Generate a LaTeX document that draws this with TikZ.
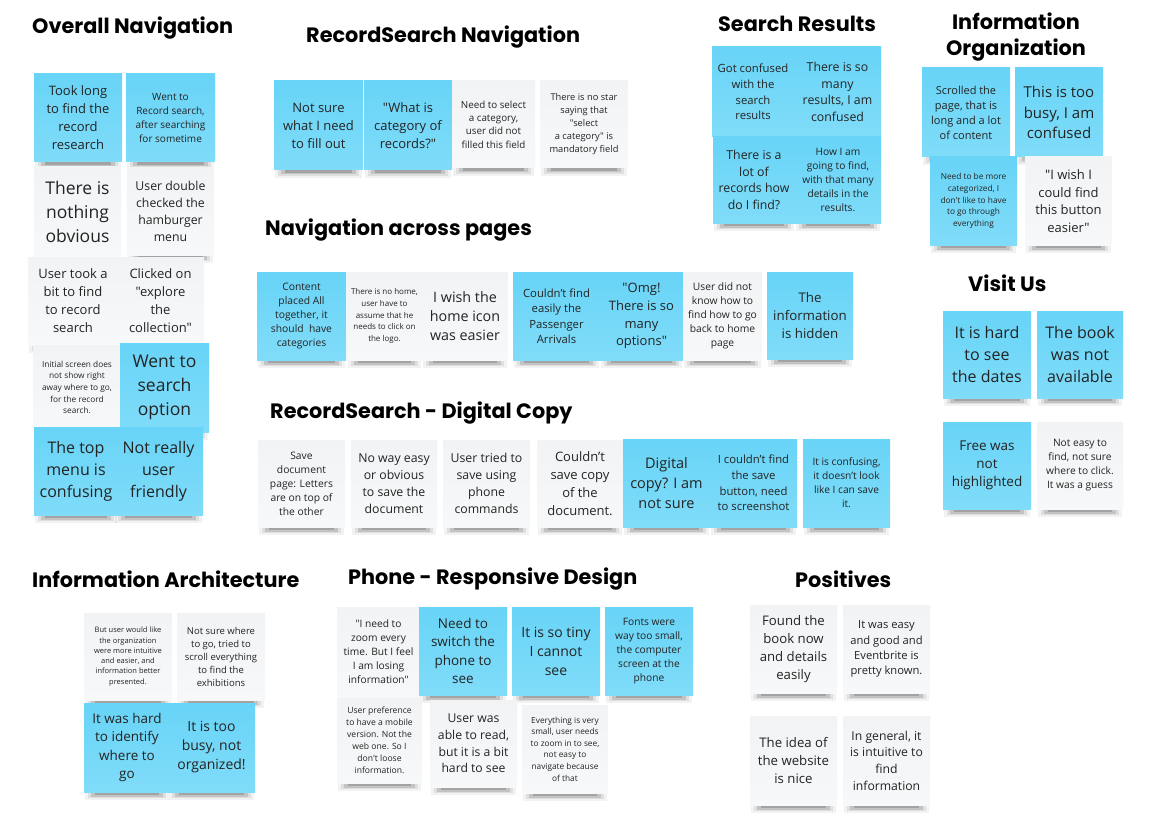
\documentclass[tikz,border=0pt]{standalone}
\usepackage{fontspec}
\setmainfont{Open Sans}[Ligatures=TeXOff]
\newfontfamily\titlefont{Poppins}

\definecolor{noteblue}{HTML}{68D4F7}
\definecolor{noteblueb}{HTML}{80DCF9}
\definecolor{notegray}{HTML}{F2F3F5}
\definecolor{notegrayb}{HTML}{F7F8F9}
\definecolor{inkc}{HTML}{232323}

\tikzset{
  notebase/.style={anchor=center, inner sep=0pt, align=center, text=inkc, draw=none},
  bluenote/.style={notebase, top color=noteblue, bottom color=noteblueb},
  graynote/.style={notebase, top color=notegray, bottom color=notegrayb},
  heading/.style={font=\titlefont\bfseries\fontsize{20.8}{26}\selectfont, text=black, inner sep=0pt, anchor=west},
}

% sticky note with a soft drop shadow:
% name, left, top, width, height, style, font size, line pitch, text
\newcommand\sticky[9]{%
  \fill[black,opacity=.05] (#2+1,#3+#5-8) rectangle (#2+#4-1,#3+#5+8);
  \fill[black,opacity=.08] (#2+4,#3+#5-5) rectangle (#2+#4-4,#3+#5+6);
  \fill[black,opacity=.12] (#2+7,#3+#5-3) rectangle (#2+#4-7,#3+#5+4.5);
  \fill[black,opacity=.16] (#2+11,#3+#5-1) rectangle (#2+#4-11,#3+#5+3);
  \node[#6, minimum width=#4, minimum height=#5, font=\fontsize{#7}{#8}\selectfont]
    (#1) at (#2+#4/2,#3+#5/2) {#9};
}

\begin{document}
\begin{tikzpicture}[x=1pt,y=-1pt]
\fill[white] (0,0) rectangle (1152,824);
\useasboundingbox (0,0) rectangle (1152,824);

% ---------- headings ----------
\node[heading] (hOverall) at (32,28) {Overall Navigation};
\node[heading] (hRecNav) at (306,37) {RecordSearch Navigation};
\node[heading] (hResults) at (718,24) {Search Results};
\node[heading, anchor=center, align=center] (hInfoOrg) at (1016,37) {Information\\Organization};
\node[heading] (hAcross) at (265,230) {Navigation across pages};
\node[heading] (hVisit) at (968,283) {Visit Us};
\node[heading] (hDigital) at (270,413) {RecordSearch - Digital Copy};
\node[heading] (hArch) at (32,579) {Information Architecture};
\node[heading] (hPhone) at (348,579) {Phone - Responsive Design};
\node[heading] (hPos) at (795,579) {Positives};

% ---------- Overall Navigation ----------
\sticky{on1}{34}{74}{88}{88}{bluenote}{13}{18}{Took long\\to find the\\record\\research}
\sticky{on2}{126}{74}{89}{88}{bluenote}{10}{14}{Went to\\Record search,\\after searching\\for sometime}
\sticky{on3}{34}{167}{87}{90}{graynote}{17.5}{24}{There is\\nothing\\obvious}
\sticky{on4}{127}{168}{87}{87}{graynote}{12.3}{17}{User double\\checked the\\hamburger\\menu}
\sticky{on5}{28}{257}{90}{88}{graynote}{13}{18}{User took a\\bit to find\\to record\\search}
\sticky{on6}{117}{257}{87}{87}{graynote}{13}{18}{Clicked on\\"explore\\the\\collection"}
\sticky{on7}{33}{345}{88}{85}{graynote}{8.3}{11.7}{Initial screen does\\not show right\\away where to go,\\for the record\\search.}
\sticky{on8}{120}{343}{89}{89}{bluenote}{17.5}{24}{Went to\\search\\option}
\sticky{on9}{34}{427}{84}{88}{bluenote}{16}{22}{The top\\menu is\\confusing}
\sticky{on10}{114}{427}{89}{88}{bluenote}{16}{22}{Not really\\user\\friendly}

% ---------- RecordSearch Navigation ----------
\sticky{rn1}{274}{81}{89}{89}{bluenote}{13}{18}{Not sure\\what I need\\to fill out}
\sticky{rn2}{364}{81}{88}{89}{bluenote}{13}{18}{"What is\\category of\\records?"}
\sticky{rn3}{452}{81}{83}{87}{graynote}{9.8}{13.3}{Need to select\\a category,\\user did not\\filled this field}
\sticky{rn4}{540}{81}{88}{87}{graynote}{9.3}{13}{There is no star\\saying that\\"select\\a category" is\\mandatory field}

% ---------- Navigation across pages ----------
\sticky{na1}{257}{272}{89}{88}{bluenote}{10.3}{14}{Content\\placed All\\together, it\\should\ \ have\\categories}
\sticky{na2}{347}{272}{75}{88}{graynote}{8}{11.7}{There is no home,\\user have to\\assume that he\\needs to click on\\the logo.}
\sticky{na3}{422}{272}{86}{88}{graynote}{14.3}{19}{I wish the\\home icon\\was easier}
\sticky{na4}{513}{272}{87}{88}{bluenote}{11.3}{15.5}{Couldn’t find\\easily the\\Passenger\\Arrivals}
\sticky{na5}{600}{272}{83}{88}{bluenote}{13}{17.7}{"Omg!\\There is so\\many\\options"}
\sticky{na6}{683}{272}{79}{88}{graynote}{10.3}{14}{User did not\\know how to\\find how to go\\back to home\\page}
\sticky{na7}{767}{272}{86}{87}{bluenote}{13.3}{18}{The\\information\\is hidden}

% ---------- RecordSearch - Digital Copy ----------
\sticky{dc1}{258}{440}{87}{87}{graynote}{10.3}{14}{Save\\document\\page: Letters\\are on top of\\the other}
\sticky{dc2}{351}{440}{86}{87}{graynote}{12.3}{17}{No way easy\\or obvious\\to save the\\document}
\sticky{dc3}{443}{440}{87}{87}{graynote}{12.3}{17}{User tried to\\save using\\phone\\commands}
\sticky{dc4}{537}{440}{86}{87}{graynote}{13}{18}{Couldn’t\\save copy\\of the\\document.}
\sticky{dc5}{623}{439}{87}{88}{bluenote}{14.5}{20}{Digital\\copy? I am\\not sure}
\sticky{dc6}{710}{439}{87}{88}{bluenote}{11.3}{15.7}{I couldn’t find\\the save\\button, need\\to screenshot}
\sticky{dc7}{803}{439}{87}{88}{bluenote}{10.2}{14}{It is confusing,\\it doesn’t look\\like I can save\\it.}

% ---------- Search Results ----------
\sticky{sr1}{712}{47}{82}{90}{bluenote}{11.3}{15.7}{Got confused\\with the\\search\\results}
\sticky{sr2}{794}{47}{87}{90}{bluenote}{12.3}{16.7}{There is so\\many\\results, I am\\confused}
\sticky{sr3}{713}{137}{82}{86}{bluenote}{12.3}{16.7}{There is a\\lot of\\records how\\do I find?}
\sticky{sr4}{795}{137}{86}{86}{bluenote}{10.2}{14}{How I am\\going to find,\\with that many\\details in the\\results.}

% ---------- Information Organization ----------
\sticky{io1}{922}{68}{88}{89}{bluenote}{11}{15}{Scrolled the\\page, that is\\long and a lot\\of content}
\sticky{io2}{1015}{68}{88}{89}{bluenote}{15}{20.7}{This is too\\busy, I am\\confused}
\sticky{io3}{930}{157}{87}{88}{bluenote}{8.3}{11.7}{Need to be more\\categorized, I\\don't like to have\\to go through\\everything}
\sticky{io4}{1025}{157}{87}{88}{graynote}{13}{17.7}{"I wish I\\could find\\this button\\easier"}

% ---------- Visit Us ----------
\sticky{vu1}{943}{311}{88}{87}{bluenote}{16}{21.7}{It is hard\\to see\\the dates}
\sticky{vu2}{1037}{311}{86}{87}{bluenote}{16}{21.7}{The book\\was not\\available}
\sticky{vu3}{943}{422}{88}{87}{bluenote}{13.5}{18.3}{Free was\\not\\highlighted}
\sticky{vu4}{1037}{422}{86}{87}{graynote}{10.2}{14}{Not easy to\\find, not sure\\where to click.\\It was a guess}

% ---------- Information Architecture ----------
\sticky{ia1}{84}{613}{88}{87}{graynote}{7.5}{10.3}{But user would like\\the organization\\were more intuitive\\and easier, and\\information better\\presented.}
\sticky{ia2}{177}{613}{88}{87}{graynote}{9.5}{13}{Not sure where\\to go, tried to\\scroll everything\\to find the\\exhibitions}
\sticky{ia3}{84}{703}{86}{89}{bluenote}{13.5}{18.3}{It was hard\\to identify\\where to\\go}
\sticky{ia4}{168}{703}{87}{89}{bluenote}{14}{19}{It is too\\busy, not\\organized!}

% ---------- Phone - Responsive Design ----------
\sticky{ph1}{337}{607}{83}{90}{graynote}{10.2}{14}{"I need to\\zoom every\\time. But I feel\\I am losing\\information"}
\sticky{ph2}{419}{607}{88}{88}{bluenote}{13.5}{18.3}{Need to\\switch the\\phone to\\see}
\sticky{ph3}{512}{607}{88}{88}{bluenote}{14}{19}{It is so tiny\\I cannot\\see}
\sticky{ph4}{605}{607}{88}{88}{bluenote}{10.2}{14}{Fonts were\\way too small,\\the computer\\screen at the\\phone}
\sticky{ph5}{337}{698}{85}{85}{graynote}{8.6}{12}{User preference\\to have a mobile\\version. Not the\\web one. So I\\don't loose\\information.}
\sticky{ph6}{430}{700}{87}{87}{graynote}{12.2}{16.7}{User was\\able to read,\\but it is a bit\\hard to see}
\sticky{ph7}{522}{705}{86}{88}{graynote}{8.3}{11.6}{Everything is very\\small, user needs\\to zoom in to see,\\not easy to\\navigate because\\of that}

% ---------- Positives ----------
\sticky{po1}{750}{605}{87}{88}{graynote}{13.2}{18}{Found the\\book now\\and details\\easily}
\sticky{po2}{843}{605}{87}{88}{graynote}{11.2}{15.3}{It was easy\\and good and\\Eventbrite is\\pretty known.}
\sticky{po3}{750}{716}{87}{89}{graynote}{13.2}{18}{The idea of\\the website\\is nice}
\sticky{po4}{843}{716}{87}{89}{graynote}{12.2}{16.7}{In general, it\\is intuitive to\\find\\information}

\end{tikzpicture}
\end{document}
